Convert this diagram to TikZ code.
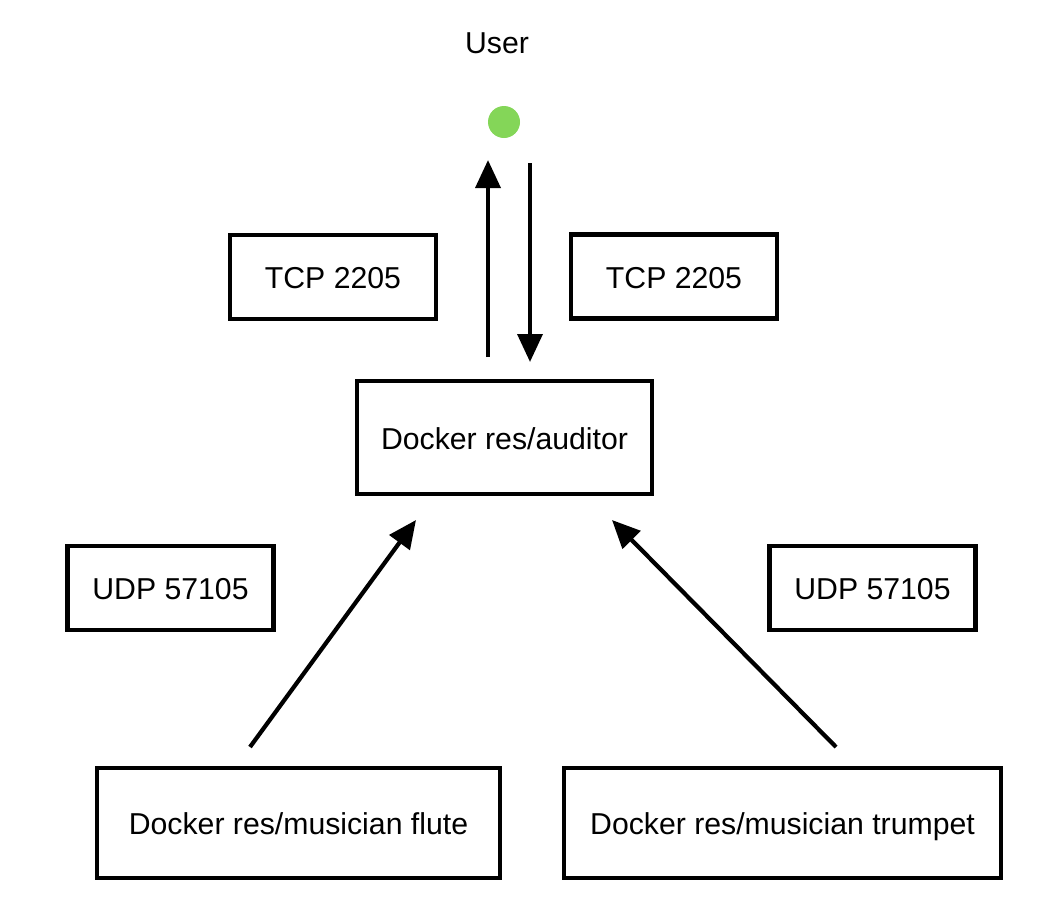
\documentclass[tikz,border=0pt]{standalone}
\usepackage{fontspec}
\setmainfont{Liberation Sans}
\usetikzlibrary{arrows.meta}
\definecolor{userGreen}{RGB}{132,214,88}

\begin{document}
\begin{tikzpicture}[
    box/.style={draw,line width=3.2pt,minimum width=5.15cm,minimum height=2.1cm,inner sep=0pt,text height=0.64cm,text depth=0.06cm},
    flow/.style={line width=3pt,-{Triangle[width=0.62cm,length=0.7cm]}}
  ]
    \fontsize{21.5}{25}\selectfont
    \useasboundingbox (0,0) rectangle (26.35,-23);

    % User
    \node (user) at (12.425,-1.075) {User};
    \node[circle,fill=userGreen,minimum size=0.8cm,inner sep=0pt] (dot) at (12.6,-3.05) {};

    % Port labels
    \node[box] (tcpL) at (8.325,-6.925) {TCP 2205};
    \node[box] (tcpR) at (16.85,-6.9125) {TCP 2205};
    \node[box] (udpL) at (4.2625,-14.7) {UDP 57105};
    \node[box] (udpR) at (21.8125,-14.7) {UDP 57105};

    % Containers
    \node[box,minimum width=7.375cm,minimum height=2.825cm] (auditor) at (12.6125,-10.9375) {Docker res/auditor};
    \node[box,minimum width=10.075cm,minimum height=2.75cm] (flute) at (7.4625,-20.575) {Docker res/musician flute};
    \node[box,minimum width=10.925cm,minimum height=2.75cm] (trumpet) at (19.5625,-20.575) {Docker res/musician trumpet};

    % Arrow ends
    \coordinate (upS) at (12.2,-8.925);
    \coordinate (upE) at (12.2,-4.0);
    \coordinate (downS) at (13.25,-4.075);
    \coordinate (downE) at (13.25,-9.05);
    \coordinate (fluteS) at (6.25,-18.675);
    \coordinate (fluteE) at (10.4,-13.0);
    \coordinate (trumpetS) at (20.9,-18.675);
    \coordinate (trumpetE) at (15.3,-13.0);

    % Draw arrows
    \draw[flow] (upS) -- (upE);
    \draw[flow] (downS) -- (downE);
    \draw[flow] (fluteS) -- (fluteE);
    \draw[flow] (trumpetS) -- (trumpetE);
\end{tikzpicture}
\end{document}
